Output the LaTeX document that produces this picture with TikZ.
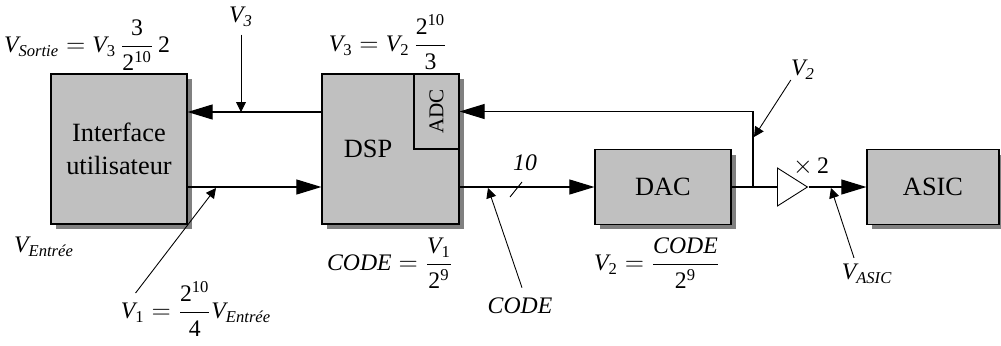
\documentclass[tikz,border=0pt]{standalone}
\usepackage{amsmath}
\usepackage{fontspec}
\setmainfont{Liberation Serif}
\usetikzlibrary{arrows.meta,shadows,shapes.geometric,positioning}
\definecolor{boxgray}{HTML}{C0C0C0}
\definecolor{shadegray}{HTML}{808080}
\newcommand{\tv}{\mathit{V}}
\newcommand{\nb}[1]{\mathrm{#1}}
\tikzset{
  boite/.style={draw, line width=0.7pt, fill=boxgray, inner sep=0pt, align=center,
    font=\fontsize{15}{19}\selectfont},
  bloc/.style={boite, minimum width=2.72cm, minimum height=1.5cm,
    drop shadow={shadow xshift=0.1cm, shadow yshift=-0.1cm, fill=shadegray, opacity=1}},
  sig/.style={line width=0.6pt, -{Triangle[length=0.5cm,width=0.3cm]}},
  fleche/.style={line width=0.5pt, -{Triangle[length=0.2cm,width=0.2cm]}},
  lbl/.style={inner sep=0pt, font=\fontsize{13.5}{16}\selectfont},
}
\begin{document}
\begin{tikzpicture}[x=0.02cm, y=-0.02cm]
\useasboundingbox (0,0) rectangle (1001,345);

% blocs
\node[bloc, minimum height=3cm] (ui) at (119,149) {Interface\\utilisateur};
\node[bloc, minimum width=2.74cm, minimum height=3cm] (dsp) at (390.5,149) {};
\node[boite, minimum width=0.9cm, minimum height=1.5cm, anchor=north east, font=\fontsize{12}{14}\selectfont] (adc) at (dsp.north east) {\rotatebox{90}{ADC}};
\node[inner sep=0pt, font=\fontsize{15}{19}\selectfont] (dsptxt) at (368,149) {DSP};
\node[bloc] (dac) at (663,187) {DAC};
\node[bloc, minimum width=2.64cm] (asic) at (933,187) {ASIC};
\node[draw, isosceles triangle, isosceles triangle stretches, minimum width=0.76cm, minimum height=0.6cm, inner sep=0pt, anchor=west, line width=0.5pt] (amp) at (777,187) {};

\coordinate (hy) at (0,112);
\coordinate (by) at (0,187);
\coordinate (noeud) at (753,187);

% liaisons
\draw[sig] (dsp.west |- hy) -- (ui.east |- hy);
\draw[sig] (ui.east |- by) -- (dsp.west |- by);
\draw[sig] (dsp.east |- dac) -- (dac);
\draw[line width=0.6pt] (dac) -- (amp.west);
\draw[sig] (noeud) |- (adc.east);
\draw[sig] (amp.east) -- (asic);
\draw[line width=0.5pt] (510,197) -- (522,182);

% labels
\node[lbl] (sortie) at (87,45) {$\tv_{\textit{Sortie}} = \tv_{\nb{3}}\,\dfrac{\nb{3}}{\nb{2}^{\nb{10}}}\,\nb{2}$};
\node[lbl] (v3) at (241,17) {$\tv_{\mathit{3}}$};
\node[lbl] (v3f) at (388,42) {$\tv_{\nb{3}} = \tv_{\nb{2}}\,\dfrac{\nb{2}^{\nb{10}}}{\nb{3}}$};
\node[lbl] (ventree) at (44,247) {$\tv_{\textit{Entrée}}$};
\node[lbl] (v1f) at (196,309) {$\tv_{\nb{1}} = \dfrac{\nb{2}^{\nb{10}}}{\nb{4}}\tv_{\textit{Entrée}}$};
\node[lbl] (codef) at (390,263) {$\mathit{CODE} = \dfrac{\tv_{\nb{1}}}{\nb{2}^{\nb{9}}}$};
\node[lbl] (code) at (520,306) {$\mathit{CODE}$};
\node[lbl] (nbits) at (525,163) {$\mathit{10}$};
\node[lbl] (v2f) at (657,263) {$\tv_{\nb{2}} = \dfrac{\mathit{CODE}}{\nb{2}^{\nb{9}}}$};
\node[lbl] (v2) at (803,70) {$\tv_{\mathit{2}}$};
\node[lbl] (gain) at (811,167) {$\times\,\nb{2}$};
\node[lbl] (vasic) at (867,274) {$\tv_{\mathit{ASIC}}$};

% fleches
\draw[fleche, shorten <=0.15cm] (v3.south) -- (v3.south |- hy);
\draw[fleche] ([xshift=0.3cm, yshift=0.32cm]v1f.west) -- (216,188);
\draw[fleche] ([xshift=0.04cm, yshift=0.2cm]code.north) -- (488,188);
\draw[fleche] (v2.south west) -- (754,137);
\draw[fleche] ([xshift=-0.26cm, yshift=0.12cm]vasic.north) -- (831,188);
\end{tikzpicture}
\end{document}
